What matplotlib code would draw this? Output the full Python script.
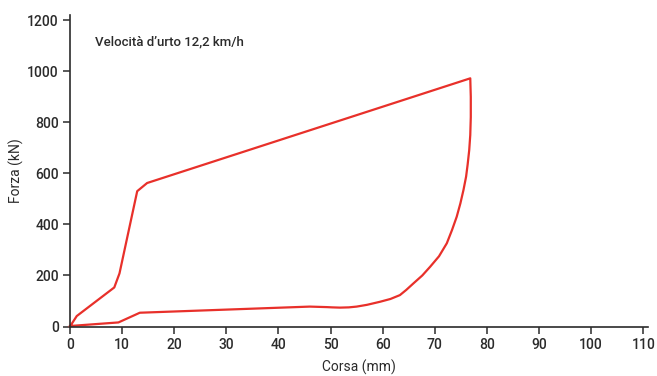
#!/usr/bin/env python
"""Force vs stroke loop for a buffer impact at 12.2 km/h."""

import matplotlib

matplotlib.use("Agg")
import matplotlib.pyplot as plt

# Loading branch (stroke in mm, force in kN)
LOAD_X = [0.0, 1.3, 8.5, 9.5, 12.9, 14.8, 76.8]
LOAD_Y = [0.0, 41.0, 153.0, 208.0, 530.0, 562.0, 972.0]

# Unloading branch, from the peak back to the origin
UNLOAD_X = [76.8, 76.9, 76.9, 76.8, 76.6, 76.3, 76.0, 75.5, 74.9, 74.2,
            73.3, 72.3, 70.8, 69.1, 67.6, 65.9, 64.5, 63.3, 61.5, 59.5,
            57.0, 55.0, 53.5, 51.8, 50.3, 49.3, 46.0, 13.4, 9.3, 0.0]
UNLOAD_Y = [972.0, 900.0, 820.0, 750.0, 691.0, 635.0, 587.0, 535.0, 482.0, 430.0,
            378.0, 326.0, 275.0, 234.0, 200.0, 169.0, 143.0, 123.0, 108.0, 97.0,
            85.0, 78.0, 75.0, 74.0, 75.0, 76.0, 78.0, 54.0, 16.0, 2.0]

X_TICKS = list(range(0, 111, 10))
Y_TICKS = list(range(0, 1201, 200))

RED = "#e8302a"
INK = "#2b2b2b"
FONT = ["Roboto", "DejaVu Sans"]


def main() -> None:
    plt.rcParams["font.family"] = FONT
    plt.rcParams["font.weight"] = "medium"
    fig = plt.figure(figsize=(6.57, 3.76), dpi=100)
    fig.patch.set_facecolor("white")
    ax = fig.add_axes([0.1065, 0.1316, 0.8798, 0.8285])

    ax.plot(LOAD_X + UNLOAD_X[1:], LOAD_Y + UNLOAD_Y[1:], color=RED,
            linewidth=1.6, solid_joinstyle="round", clip_on=False)

    ax.set_xlim(0, 110.9)
    ax.set_ylim(0, 1220)
    ax.set_xticks(X_TICKS)
    ax.set_yticks(Y_TICKS)

    for side in ("top", "right"):
        ax.spines[side].set_visible(False)
    for side in ("left", "bottom"):
        ax.spines[side].set_color(INK)
        ax.spines[side].set_linewidth(1.2)
    ax.tick_params(direction="out", length=5, width=1.1, color=INK,
                   labelcolor=INK, labelsize=10, pad=3)

    ax.set_xlabel("Corsa (mm)", fontsize=10, color=INK, labelpad=6)
    ax.set_ylabel("Forza (kN)", fontsize=10, color=INK, labelpad=2)
    ax.text(0.043, 0.913, "Velocità d\u2019urto 12,2 km/h", transform=ax.transAxes,
            fontsize=9.5, color=INK, ha="left", va="center")

    fig.savefig("out.png", dpi=100)
    plt.close(fig)


if __name__ == "__main__":
    main()
